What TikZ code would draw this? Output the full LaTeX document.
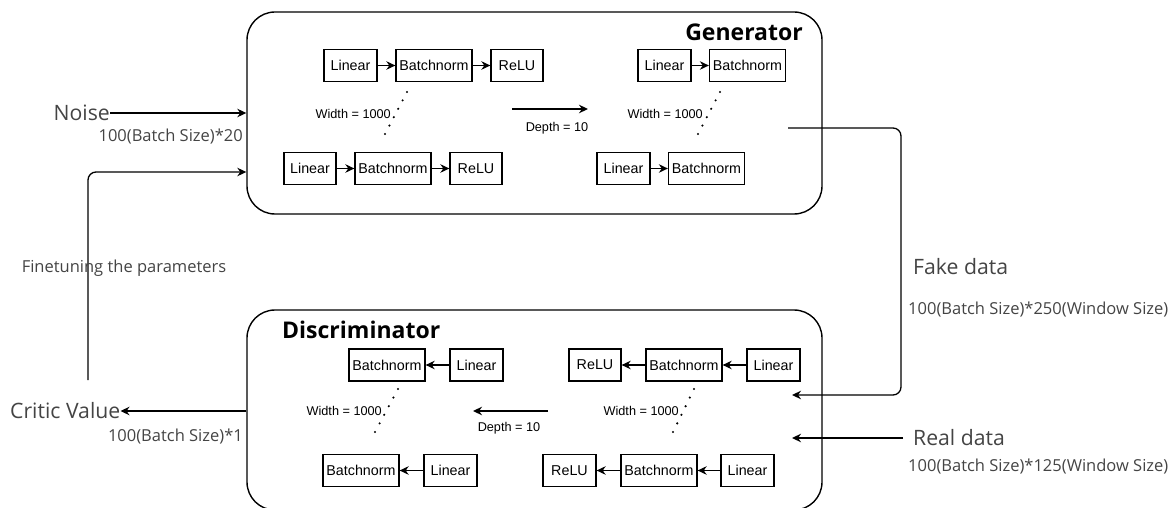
\documentclass[tikz,border=0pt]{standalone}
\usepackage{fontspec}
\usetikzlibrary{arrows.meta,calc}
\newfontfamily\osans{Open Sans}
\newfontfamily\osansb{Open Sans Bold}
\newfontfamily\arialf{Liberation Sans}
\definecolor{lblgray}{HTML}{444444}
\begin{document}
\begin{tikzpicture}[x=1pt,y=-1pt,
  blk/.style={draw, line width=1.3pt, minimum height=32pt, inner sep=0pt, font=\arialf\fontsize{14.3}{16}\selectfont},
  big/.style={rounded corners=28pt, draw, line width=1.4pt, inner sep=0pt},
  conn/.style={line width=1.3pt, -{Stealth[length=9pt,width=8.5pt]}},
  small/.style={font=\arialf\fontsize{12.7}{14}\selectfont, inner sep=0pt},
  lbl/.style={text=lblgray, font=\osans\fontsize{21.2}{24}\selectfont, inner sep=0pt},
  num/.style={text=lblgray, font=\osans\fontsize{16.5}{19}\selectfont, inner sep=0pt},
  ttl/.style={font=\osansb\fontsize{23}{27}\selectfont, inner sep=0pt},
  dotc/.style={fill=black, draw=none}
]
\clip (0,0) rectangle (1173,508);
% big boxes
\node[big, minimum width=575pt, minimum height=202pt] (gen) at (534.5,113) {};
\node[big, minimum width=575pt, minimum height=200pt] (disc) at (534.5,410) {};
\node[ttl, anchor=east] (gent) at (803,32) {Generator};
\node[ttl, anchor=west] (disct) at (282,330) {Discriminator};

% generator left group
\node[blk, minimum width=53pt] (g1l) at (350.5,65.5) {Linear};
\node[blk, minimum width=76pt] (g1b) at (434,65.5) {Batchnorm};
\node[blk, minimum width=52pt] (g1r) at (517,65.5) {ReLU};
\node[blk, minimum width=52pt] (g2l) at (310,168.5) {Linear};
\node[blk, minimum width=76pt] (g2b) at (393,168.5) {Batchnorm};
\node[blk, minimum width=52pt] (g2r) at (476,168.5) {ReLU};
\draw[conn] (g1l) -- (g1b);
\draw[conn] (g1b) -- (g1r);
\draw[conn] (g2l) -- (g2b);
\draw[conn] (g2b) -- (g2r);
\node[small, anchor=east] (gw1) at (391,114) {Width = 1000};
\foreach \i in {0,...,5} \fill[dotc] ($(407,92)!\i/5!(385,134)$) circle (1.2pt);

% generator right group
\node[blk, minimum width=53pt] (g3l) at (664.5,65.5) {Linear};
\node[blk, minimum width=76pt] (g3b) at (747.5,65.5) {Batchnorm};
\node[blk, minimum width=53pt] (g4l) at (623.5,168.5) {Linear};
\node[blk, minimum width=76pt] (g4b) at (706.5,168.5) {Batchnorm};
\draw[conn] (g3l) -- (g3b);
\draw[conn] (g4l) -- (g4b);
\node[small, anchor=east] (gw2) at (703,114) {Width = 1000};
\foreach \i in {0,...,5} \fill[dotc] ($(720,92)!\i/5!(698,134)$) circle (1.2pt);

% generator depth
\coordinate (gd1) at (512,109);
\coordinate (gd2) at (588,109);
\draw[conn] (gd1) -- (gd2);
\node[small] (gdt) at (557,128) {Depth = 10};

% discriminator left group
\node[blk, minimum width=76pt] (d1b) at (387,365) {Batchnorm};
\node[blk, minimum width=53pt] (d1l) at (476.5,365) {Linear};
\node[blk, minimum width=76pt] (d2b) at (361,470.5) {Batchnorm};
\node[blk, minimum width=53pt] (d2l) at (450.5,470.5) {Linear};
\draw[conn] (d1l) -- (d1b);
\draw[conn] (d2l) -- (d2b);
\node[small, anchor=east] (dw1) at (382,411) {Width = 1000};
\foreach \i in {0,...,5} \fill[dotc] ($(398,389)!\i/5!(375,432)$) circle (1.2pt);

% discriminator right group
\node[blk, minimum width=52pt] (d3r) at (595,365) {ReLU};
\node[blk, minimum width=76pt] (d3b) at (684,365) {Batchnorm};
\node[blk, minimum width=53pt] (d3l) at (773.5,365) {Linear};
\node[blk, minimum width=53pt] (d4r) at (569.5,470.5) {ReLU};
\node[blk, minimum width=76pt] (d4b) at (659,470.5) {Batchnorm};
\node[blk, minimum width=53pt] (d4l) at (747.5,470.5) {Linear};
\draw[conn] (d3l) -- (d3b);
\draw[conn] (d3b) -- (d3r);
\draw[conn] (d4l) -- (d4b);
\draw[conn] (d4b) -- (d4r);
\node[small, anchor=east] (dw2) at (679,411) {Width = 1000};
\foreach \i in {0,...,5} \fill[dotc] ($(694,389)!\i/5!(673,432)$) circle (1.2pt);

% discriminator depth
\coordinate (dd1) at (548,411);
\coordinate (dd2) at (473,411);
\draw[conn] (dd1) -- (dd2);
\node[small] (ddt) at (509,428) {Depth = 10};

% outside
\node[lbl, anchor=east] (noise) at (110,113) {Noise};
\draw[conn] (noise.east) -- (noise.east -| gen.west);
\node[num, anchor=east] (noisen) at (243,137) {100(Batch Size)*20};

\coordinate (fb0) at (88,380);
\coordinate (fb1) at (88,172);
\draw[conn, rounded corners=8pt] (fb0) -- (fb1) -- (fb1 -| gen.west);
\node[num] (fine) at (124,268) {Finetuning the parameters};

\node[lbl, anchor=west] (critic) at (10,411) {Critic Value};
\draw[conn] (critic.east -| disc.west) -- (critic.east);
\node[num, anchor=east] (criticn) at (243,437) {100(Batch Size)*1};

\coordinate (fk0) at (788,128);
\coordinate (fk1) at (901,128);
\coordinate (fk2) at (901,395);
\coordinate (fk3) at (792,395);
\draw[conn, rounded corners=8pt] (fk0) -- (fk1) -- (fk2) -- (fk3);
\node[lbl, anchor=west] (fake) at (913,267) {Fake data};
\node[num, anchor=west] (faken) at (908,310) {100(Batch Size)*250(Window Size)};

\node[lbl, anchor=west] (real) at (913,438) {Real data};
\coordinate (rd) at (792,438);
\draw[conn] (real.west) ++(-10pt,0) -- (rd);
\node[num, anchor=west] (realn) at (908,467) {100(Batch Size)*125(Window Size)};
\end{tikzpicture}
\end{document}
